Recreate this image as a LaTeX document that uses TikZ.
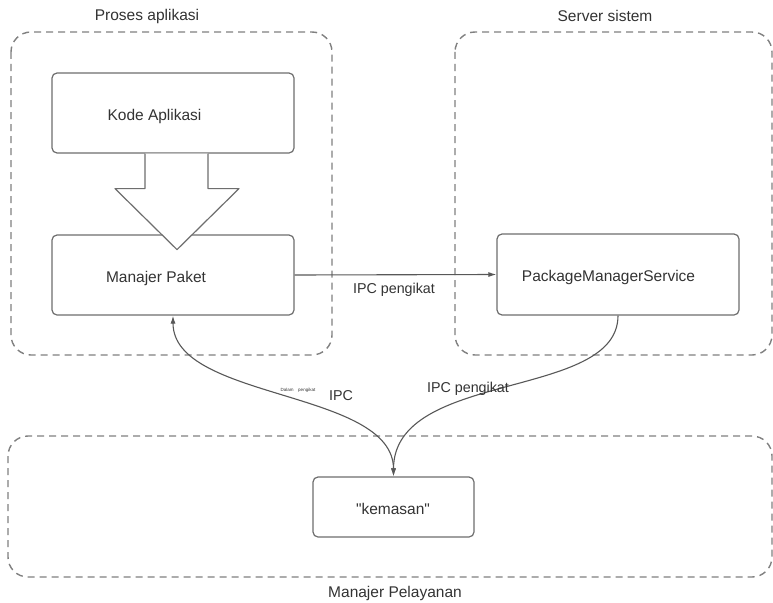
\documentclass[tikz,border=0pt]{standalone}
\usepackage{fontspec}
\setmainfont{Liberation Sans}
% same family without the TeX quote mapping, for straight quotes
\newfontfamily\plainfont{Liberation Sans}
\usetikzlibrary{arrows.meta,calc}
\definecolor{strokegray}{HTML}{6E6E6E}
\definecolor{dashgray}{HTML}{808080}
\definecolor{txtgray}{HTML}{333333}
\tikzset{
  container/.style={draw=dashgray, line width=1.4pt, dash pattern=on 7pt off 5pt, rounded corners=20pt},
  box/.style={draw=strokegray, line width=1.2pt, rounded corners=5pt, fill=white, inner sep=0pt},
  lbl/.style={text=txtgray, font=\fontsize{15.5}{17}\selectfont, inner sep=0pt},
  smalllbl/.style={text=txtgray, font=\fontsize{14.3}{16}\selectfont, inner sep=0pt},
  tinylbl/.style={text=txtgray, font=\fontsize{4.5}{5}\selectfont, inner sep=0pt},
  conn/.style={draw=strokegray!80!black, line width=1.1pt, arrows={-{Latex[length=8pt,width=5pt]}}},
  blockarrow/.style={draw=strokegray, line width=1.2pt, fill=white, line join=round},
}
\begin{document}
\begin{tikzpicture}[x=1pt, y=-1pt]
\useasboundingbox (0,0) rectangle (773,602);
\fill[white] (0,0) rectangle (773,602);

% process groups
\draw[container] (11,32) rectangle (332,355);
\draw[container] (455,32) rectangle (772,355);
\draw[container] (8,436) rectangle (772,577);
\node[lbl] (tproc) at (147,16) {Proses aplikasi};
\node[lbl] (tserv) at (605,16) {Server sistem};
\node[lbl] (tmgr) at (395,593) {Manajer Pelayanan};

% components
\node[box, minimum width=242pt, minimum height=80pt] (kode) at (173,113) {};
\node[lbl] (tkode) at (154.5,116) {Kode Aplikasi};
\node[box, minimum width=242pt, minimum height=80pt] (paket) at (173,275) {};
\node[lbl] (tpaket) at (156,278) {Manajer Paket};
\node[box, minimum width=242pt, minimum height=81pt] (pms) at (618,274.5) {};
\node[lbl] (tpms) at (608.5,277) {PackageManagerService};
\node[box, minimum width=161pt, minimum height=60pt] (kem) at (393.5,507) {};
\node[lbl, font=\plainfont\fontsize{15.5}{17}\selectfont] (tkem) at (393,509) {"kemasan"};

% block arrow from application code to the package manager
\draw[blockarrow]
  ($(kode.south)+(-28,0)$) -- ++(0,35) -- ++(-30,0)
  -- ($(kode.south)+(4,96)$)
  -- ($(kode.south)+(66,35)$) -- ++(-31,0) -- ($(kode.south)+(35,0)$);

% binder IPC connections
\draw[conn] (paket.east) -- (pms.west);
\node[smalllbl] (tipc1) at (394,290) {IPC pengikat};

\draw[conn, arrows={{Latex[length=8pt,width=5pt]}-{Latex[length=8pt,width=5pt]}}]
  (paket.south) .. controls +(0,85) and +(0,-87) .. (kem.north);
\draw[conn] (pms.south) .. controls +(0,85) and +(0,-107) .. (kem.north);

\node[tinylbl] (tdalam) at (298,390) {Dalam\quad pengikat};
\node[smalllbl] (tipc2) at (341,396) {IPC};
\node[smalllbl] (tipc3) at (468,389) {IPC pengikat};
\end{tikzpicture}
\end{document}
